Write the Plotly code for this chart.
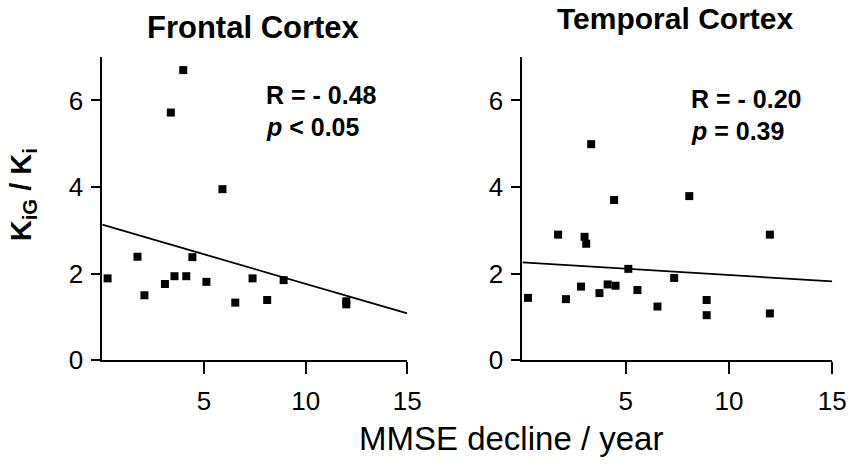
import plotly.graph_objects as go

# ---- data ----
frontal_x = [0.26, 1.73, 2.07, 3.08, 3.37, 3.55, 3.98, 4.13, 4.43, 5.12, 5.91, 6.54, 7.39, 8.11, 8.92, 12.0, 12.0]
frontal_y = [1.89, 2.39, 1.50, 1.76, 5.72, 1.94, 6.70, 1.94, 2.38, 1.81, 3.95, 1.33, 1.89, 1.39, 1.85, 1.36, 1.29]
frontal_fit_x = [0, 15]
frontal_fit_y = [3.13, 1.08]

temporal_x = [0.27, 1.73, 2.11, 2.84, 3.01, 3.09, 3.33, 3.73, 4.13, 4.44, 4.51, 5.13, 5.57, 6.54, 7.35, 8.08, 8.92, 8.92, 11.98, 11.98]
temporal_y = [1.44, 2.90, 1.41, 1.70, 2.85, 2.69, 4.99, 1.55, 1.75, 3.70, 1.72, 2.11, 1.62, 1.24, 1.90, 3.79, 1.39, 1.04, 2.90, 1.08]
temporal_fit_x = [0, 15]
temporal_fit_y = [2.26, 1.82]

x_ticks = [5, 10, 15]
y_ticks = [0, 2, 4, 6]

W, H = 862, 473
FONT = "Arial, Liberation Sans, sans-serif"

def px(x):
    return x / W

def py(y):
    return 1 - y / H

fig = go.Figure()

for xs, ys, fx, fy, xa, ya in [
    (frontal_x, frontal_y, frontal_fit_x, frontal_fit_y, "x", "y"),
    (temporal_x, temporal_y, temporal_fit_x, temporal_fit_y, "x2", "y2"),
]:
    fig.add_trace(go.Scatter(x=fx, y=fy, mode="lines", line=dict(color="black", width=1.8),
                             xaxis=xa, yaxis=ya, showlegend=False, hoverinfo="skip", cliponaxis=False))
    fig.add_trace(go.Scatter(x=xs, y=ys, mode="markers",
                             marker=dict(symbol="square", size=8, color="black"),
                             xaxis=xa, yaxis=ya, showlegend=False, cliponaxis=False))

axis_common = dict(showgrid=False, zeroline=False, showline=True, linecolor="black", linewidth=2,
                   ticks="outside", tickcolor="black", tickwidth=2,
                   tickfont=dict(family=FONT, size=26, color="black"))

ydom = [py(372), py(59)]
fig.update_layout(
    width=W, height=H, margin=dict(l=0, r=0, t=0, b=0),
    paper_bgcolor="white", plot_bgcolor="white",
    xaxis=dict(domain=[px(104), px(414)], range=[0, 15], tickvals=x_ticks, ticklen=12,
               ticklabelstandoff=5, anchor="y", **axis_common),
    yaxis=dict(domain=ydom, range=[0, 7], tickvals=y_ticks, ticklen=9, ticklabelstandoff=3,
               anchor="x", **axis_common),
    xaxis2=dict(domain=[px(531), px(846)], range=[0, 15], tickvals=x_ticks, ticklen=12,
                ticklabelstandoff=5, anchor="y2", **axis_common),
    yaxis2=dict(domain=ydom, range=[0, 7], tickvals=y_ticks, ticklen=9, ticklabelstandoff=3,
                anchor="x2", **axis_common),
)

def ann(text, x, y, size, xanchor="left", bold=True, angle=0):
    t = f"<b>{text}</b>" if bold else text
    fig.add_annotation(text=t, x=px(x), y=py(y), xref="paper", yref="paper",
                       xanchor=xanchor, yanchor="middle", showarrow=False, textangle=angle,
                       font=dict(family=FONT, size=size, color="black"))

ann("Frontal Cortex", 257.5, 28, 31, xanchor="center")
ann("Temporal Cortex", 686.5, 19, 30, xanchor="center")
ann("R = - 0.48", 268, 98, 25)
ann("<i>p</i> &lt; 0.05", 268, 131, 25)
ann("R = - 0.20", 700, 102, 25)
ann("<i>p</i> = 0.39", 700, 135, 25)
ann("K<sub>iG</sub> / K<sub>i</sub>", 23, 201, 29, xanchor="center", angle=-90)
ann("MMSE decline / year", 519, 453, 33, xanchor="center", bold=False)

fig.write_html("out.html")
